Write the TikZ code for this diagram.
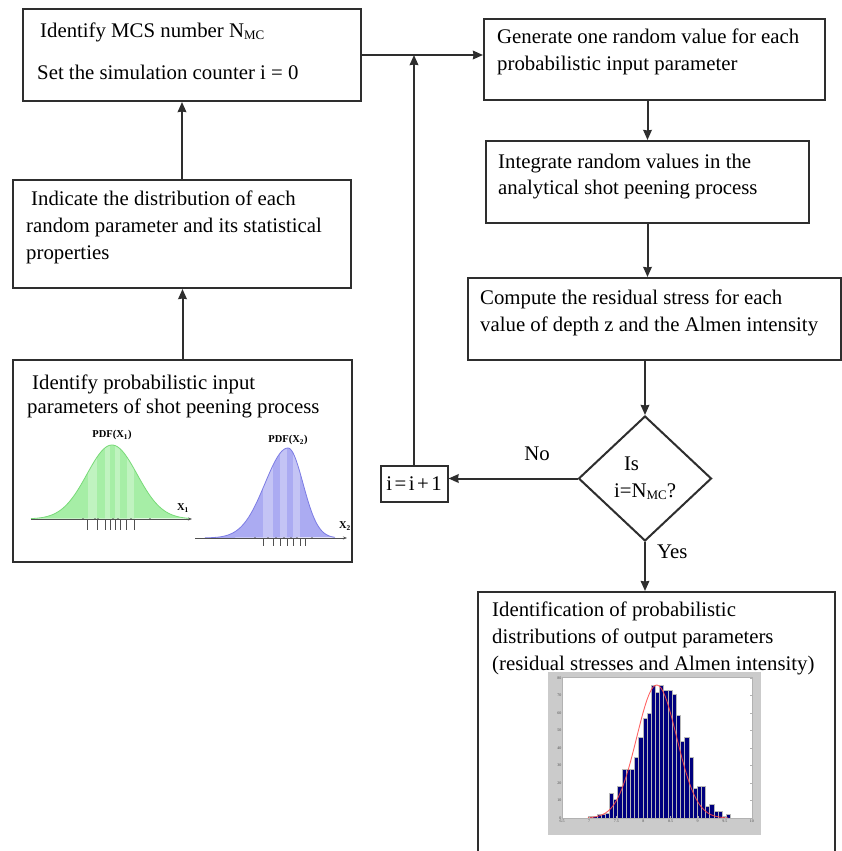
\documentclass[tikz,border=0pt]{standalone}
\usepackage{fontspec}
\setmainfont{Liberation Serif}
\usetikzlibrary{arrows.meta, positioning, shapes.geometric}
\definecolor{linegray}{HTML}{2E2E2E}
\definecolor{axisgray}{HTML}{505050}
\definecolor{pdfgreen}{HTML}{A6EEA6}
\definecolor{pdfgreenline}{HTML}{78DA78}
\definecolor{pdfblue}{HTML}{ABABF2}
\definecolor{pdfblueline}{HTML}{7C7CE4}
\definecolor{histnavy}{HTML}{00007E}
\definecolor{histframe}{HTML}{CBCBCB}
\definecolor{fitred}{HTML}{FF4A4A}
\newcommand{\nmc}{N\raisebox{-2pt}{\fontsize{13}{13}\selectfont MC}}
\tikzset{
  flowbox/.style={draw=linegray, line width=2pt, rectangle, anchor=north west,
                  inner sep=0pt, font=\fontsize{20.8}{26.7}\selectfont},
  flowtxt/.style={font=\fontsize{20.8}{26.7}\selectfont, align=left, inner sep=0pt},
  decbox/.style={draw=linegray, line width=2pt, diamond, inner sep=0pt,
                 minimum width=133pt, minimum height=125pt, align=left,
                 font=\fontsize{20.8}{26.7}\selectfont},
  lbl/.style={font=\fontsize{20.8}{26.7}\selectfont, inner sep=0pt},
  pdflbl/.style={font=\bfseries\fontsize{10.5}{10.5}\selectfont, inner sep=0pt},
  ticklbl/.style={font=\fontsize{4}{4}\selectfont, inner sep=0.5pt, text=black!70},
  arr/.style={-{Stealth[length=10pt, width=8.5pt, inset=0.5pt]}, line width=2pt, linegray},
  axisarr/.style={-{Stealth[length=4pt, width=3pt]}, line width=0.7pt, axisgray},
}

\begin{document}
\begin{tikzpicture}[x=1pt, y=-1pt]
  \path[use as bounding box, fill=white] (0,0) rectangle (842,851);

  %% -- left column ---------------------------------------------------------

  \node[flowbox, minimum width=338pt, minimum height=92pt] (mcs) at (22,8) {};
  \node[flowtxt, below right=14.5pt and 15pt of mcs.north west] (mcstxt)
    {\hspace{3pt}Identify MCS number \nmc\\[15pt]Set the simulation counter i = 0};

  \node[flowbox, minimum width=338pt, minimum height=108pt,
        below=77pt of mcs.south west, anchor=north west, xshift=-10pt] (distr) {};
  \node[flowtxt, below right=12pt and 14pt of distr.north west] (distrtxt)
    {\hspace{5pt}Indicate the distribution of each\\
     random parameter and its statistical\\
     properties};

  \node[flowbox, minimum width=339pt, minimum height=202pt,
        below=70pt of distr.south west, anchor=north west] (inputs) {};
  \node[flowtxt, font=\fontsize{20.8}{23.5}\selectfont,
        below right=15.8pt and 15pt of inputs.north west] (inputstxt)
    {\hspace{5pt}Identify probabilistic input\\
     parameters of shot peening process};

  % PDF of X1 (green)
  \begin{scope}
    \clip plot[domain=31:190, samples=80] (\x,{519-74*exp(-((\x-112)^2)/1250)}) -- cycle;
    \fill[pdfgreen] (31,440) rectangle (190,519);
    \foreach \a/\b in {87.7/97.3, 105/110, 115/120, 126.7/134.3}
      \fill[white, opacity=0.3] (\a,440) rectangle (\b,519);
  \end{scope}
  \draw[pdfgreenline, line width=0.8pt]
    plot[domain=31:190, samples=80] (\x,{519-74*exp(-((\x-112)^2)/1250)});
  \draw[axisarr] (31,519) -- (192,519);
  \foreach \t in {87.7, 97.3, 105, 110, 115, 120, 126.7, 134.3}
    \draw[axisgray, line width=0.5pt] (\t,519) -- (\t,530);
  \foreach \t in {83, 95, 98, 113, 118, 131, 150}
    \fill[axisgray] (\t,519) circle (0.9pt);
  \node[pdflbl] (pdfa) at (112,435) {PDF(X\textsubscript{1})};
  \node[pdflbl] (xa) at (183,508) {X\textsubscript{1}};

  % PDF of X2 (blue)
  \begin{scope}
    \clip plot[domain=205:288, samples=50] (\x,{538-90*exp(-((\x-288)^2)/1058)})
      -- plot[domain=288:335, samples=40] (\x,{538-90*exp(-((\x-288)^2)/450)}) -- cycle;
    \fill[pdfblue] (205,445) rectangle (335,538);
    \foreach \a/\b in {263/273, 280/287, 293/300}
      \fill[white, opacity=0.3] (\a,445) rectangle (\b,538);
  \end{scope}
  \draw[pdfblueline, line width=0.8pt]
    plot[domain=205:288, samples=50] (\x,{538-90*exp(-((\x-288)^2)/1058)})
    -- plot[domain=288:335, samples=40] (\x,{538-90*exp(-((\x-288)^2)/450)});
  \draw[axisarr] (195,538) -- (347,538);
  \foreach \t in {263, 273, 280, 287, 293, 300, 305}
    \draw[axisgray, line width=0.5pt] (\t,538) -- (\t,546);
  \foreach \t in {255, 268, 276, 284, 291, 297, 312}
    \fill[axisgray] (\t,538) circle (0.9pt);
  \node[pdflbl] (pdfb) at (288,440) {PDF(X\textsubscript{2})};
  \node[pdflbl] (xb) at (345,526) {X\textsubscript{2}};

  %% -- right column --------------------------------------------------------

  \node[flowbox, minimum width=341pt, minimum height=81pt] (gen) at (483,18) {};
  \node[flowtxt, below right=11pt and 14pt of gen.north west] (gentxt)
    {Generate one random value for each\\
     probabilistic input parameter};

  \node[flowbox, minimum width=323pt, minimum height=82pt,
        below=39pt of gen.south west, anchor=north west, xshift=2pt] (integ) {};
  \node[flowtxt, below right=13.4pt and 13pt of integ.north west] (integtxt)
    {Integrate random values in the\\
     analytical shot peening process};

  \node[flowbox, minimum width=373pt, minimum height=82pt,
        below=53pt of integ.south west, anchor=north west, xshift=-18pt] (stress) {};
  \node[flowtxt, below right=12.8pt and 13pt of stress.north west] (stresstxt)
    {Compute the residual stress for each\\
     value of depth z and the Almen intensity};

  \node[decbox, below=54pt of stress, xshift=-9.5pt] (check)
    {\hspace{10pt}Is\\i=\nmc?};

  \node[flowbox, minimum width=67pt, minimum height=36pt,
        left=129pt of check, yshift=-5pt] (incr)
    {i\kern2.5pt=\kern2.5pt i\kern2.5pt+\kern2.5pt 1};

  \node[flowbox, minimum width=357pt, minimum height=290pt,
        below=49pt of check, xshift=11.5pt] (result) {};
  \node[flowtxt, below right=11pt and 15pt of result.north west] (resulttxt)
    {Identification of probabilistic\\
     distributions of output parameters\\
     (residual stresses and Almen intensity)};

  \node[lbl, anchor=base] (nolbl) at (537,460) {No};
  \node[lbl, anchor=base west] (yeslbl) at (657,558) {Yes};

  % histogram of the output
  \fill[histframe] (548,672) rectangle (761,835);
  \fill[white] (562,677) rectangle (752,818);
  \foreach \h [count=\i from 0] in {1,1,2,2,3,14,11,18,28,28,28,35,46,57,60,76,72,
                                    76,73,73,71,59,44,46,35,17,18,18,7,8,4,4,1,2}
    \filldraw[fill=histnavy, draw=gray!55, line width=0.25pt]
      ({588.3+4.18*\i},818) rectangle ++(4.18,{-1.75*\h});
  \draw[fitred, line width=0.9pt, opacity=0.85]
    plot[domain=588:728, samples=70] (\x,{818-133*exp(-((\x-656.7)^2)/800)});
  \draw[gray!60, line width=0.4pt] (562,677) rectangle (752,818);
  \foreach \v/\t in {0/6.5, 1/7, 2/7.5, 3/8, 4/8.5, 5/9, 6/9.5, 7/10} {
    \draw[gray!60, line width=0.3pt] ({562+27.14*\v},818) -- ++(0,-2);
    \node[ticklbl, anchor=north] (xt\v) at ({562+27.14*\v},819) {\t};
  }
  \foreach \k/\t in {0/0, 1/10, 2/20, 3/30, 4/40, 5/50, 6/60, 7/70, 8/80} {
    \draw[gray!60, line width=0.3pt] (752,{818-17.5*\k}) -- ++(-2,0);
    \node[ticklbl, anchor=east] (yt\k) at (562,{818-17.5*\k}) {\t};
  }

  %% -- connectors ----------------------------------------------------------

  \draw[arr] (inputs.north) -- (inputs.north |- distr.south);
  \draw[arr] (distr.north) -- (distr.north |- mcs.south);
  \draw[arr] (mcs.east) -- (mcs.east -| gen.west);
  \draw[arr] (incr.north) -- (incr.north |- mcs.east);
  \draw[arr] (gen.south -| integ.north) -- (integ.north);
  \draw[arr] (integ.south) -- (integ.south |- stress.north);
  \draw[arr] (stress.south -| check.north) -- (check.north);
  \draw[arr] (check.west) -- (check.west -| incr.east);
  \draw[arr] (check.south) -- (check.south |- result.north);

\end{tikzpicture}
\end{document}
